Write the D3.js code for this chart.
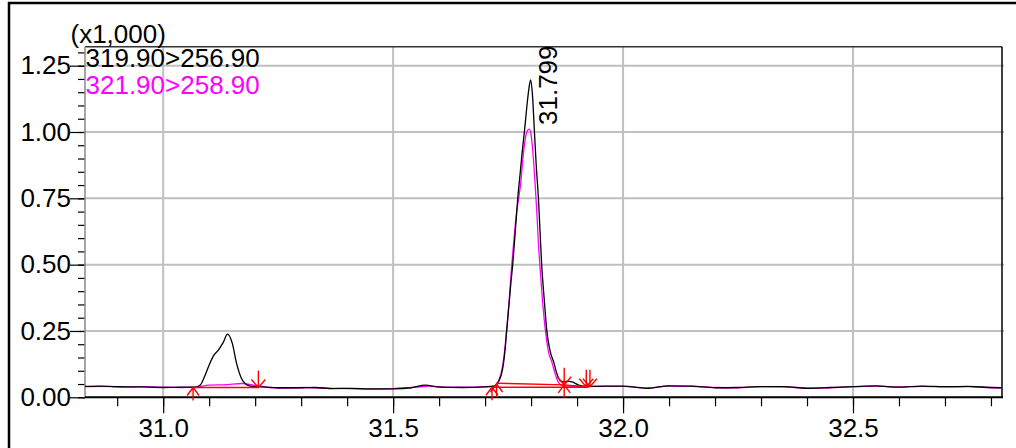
<!DOCTYPE html>
<html>
<head>
<meta charset="utf-8">
<script src="https://cdn.jsdelivr.net/npm/d3@7"></script>
<style>
  body { margin: 0; background: #fff; }
  svg text { font-family: "Liberation Sans", Arial, sans-serif; font-size: 26px; }
</style>
</head>
<body>
<div id="chart"></div>
<script>
// channel names, in drawing order
const channels = ["319.90>256.90", "321.90>258.90"];
const channelColors = ["#000000", "#ff00ff"];

// retention time (min), intensity (x1,000) for 319.90>256.90
const trace319 = [
  [30.83, .041], [30.86, .042], [30.90, .040], [30.95, .039], [31.00, .037], [31.04, .038],
  [31.07, .038], [31.08, .045], [31.09, .078], [31.10, .122], [31.11, .158], [31.12, .178],
  [31.13, .205], [31.14, .238], [31.15, .205], [31.16, .125], [31.17, .072], [31.18, .049],
  [31.19, .042], [31.21, .039], [31.25, .036], [31.30, .036], [31.33, .037], [31.37, .033],
  [31.41, .034], [31.45, .032], [31.50, .032], [31.54, .036], [31.57, .046], [31.60, .038],
  [31.65, .037], [31.70, .039], [31.72, .042], [31.725, .050], [31.731, .065], [31.736, .090],
  [31.740, .128], [31.744, .190], [31.747, .254], [31.752, .350], [31.756, .430], [31.760, .500],
  [31.765, .610], [31.771, .750], [31.776, .840], [31.781, .930], [31.786, 1.010], [31.791, 1.100],
  [31.795, 1.160], [31.799, 1.196], [31.803, 1.140], [31.807, 1.010], [31.811, .880], [31.816, .750],
  [31.823, .500], [31.829, .360], [31.834, .254], [31.842, .170], [31.850, .128], [31.855, .095],
  [31.860, .072], [31.866, .060], [31.873, .059], [31.882, .060], [31.891, .057], [31.900, .049],
  [31.910, .043], [31.92, .041], [31.96, .042], [32.00, .042], [32.05, .034], [32.10, .043],
  [32.15, .042], [32.20, .036], [32.25, .037], [32.30, .040], [32.35, .040], [32.40, .034],
  [32.45, .037], [32.50, .040], [32.55, .043], [32.60, .038], [32.65, .042], [32.70, .040],
  [32.75, .041], [32.80, .037], [32.824, .036]
];

// retention time (min), intensity (x1,000) for 321.90>258.90
const trace321 = [
  [30.83, .040], [30.87, .041], [30.92, .038], [30.96, .040], [31.00, .038], [31.04, .037],
  [31.07, .038], [31.10, .046], [31.14, .048], [31.17, .052], [31.20, .045], [31.23, .037],
  [31.27, .035], [31.31, .037], [31.35, .034], [31.40, .033], [31.45, .031], [31.50, .033],
  [31.55, .038], [31.58, .042], [31.62, .038], [31.67, .038], [31.70, .040], [31.72, .043],
  [31.725, .050], [31.731, .070], [31.736, .100], [31.740, .140], [31.744, .200], [31.748, .270],
  [31.753, .380], [31.758, .500], [31.763, .600], [31.768, .690], [31.773, .750], [31.777, .800],
  [31.782, .895], [31.787, .970], [31.792, 1.005], [31.796, 1.011], [31.800, .990], [31.805, .900],
  [31.809, .800], [31.813, .680], [31.816, .580], [31.819, .500], [31.825, .360], [31.831, .254],
  [31.838, .170], [31.846, .128], [31.852, .090], [31.857, .065], [31.862, .050], [31.870, .044],
  [31.880, .042], [31.90, .041], [31.95, .041], [32.00, .041], [32.05, .035], [32.10, .042],
  [32.15, .041], [32.20, .037], [32.25, .036], [32.30, .040], [32.35, .039], [32.40, .035],
  [32.45, .036], [32.50, .040], [32.55, .042], [32.60, .039], [32.65, .041], [32.70, .039],
  [32.75, .040], [32.80, .036], [32.824, .036]
];

// integration baselines: [t0, v0, t1, v1]
const baselines = [
  [31.065, .037, 31.207, .037],
  [31.725, .053, 31.872, .047],
  [31.715, .038, 31.925, .038],
  [31.872, .047, 31.920, .040]
];

// peak start / end markers: [t, v, direction]
const markers = [
  [31.065, .037, "up"], [31.207, .037, "down"],
  [31.715, .038, "up"], [31.725, .050, "up"],
  [31.872, .047, "up"], [31.872, .047, "down"],
  [31.920, .040, "down"], [31.928, .040, "down"]
];

// labelled peak
const peakTime = 31.799;
const peakValue = 1.196;

// axes
const xTickValues = [31.0, 31.5, 32.0, 32.5];
const yTickValues = [0, 0.25, 0.5, 0.75, 1.0, 1.25];
const xDomain = [30.83, 32.824];
const yDomain = [0, 1.3215];
const yUnitLabel = "(x1,000)";

const W = 1016, H = 448;
const plot = {left: 85, right: 1002, top: 46.7, bottom: 397.3};

const svg = d3.select("#chart").append("svg")
  .attr("width", W)
  .attr("height", H);

const x = d3.scaleLinear().domain(xDomain).range([plot.left, plot.right]);
const y = d3.scaleLinear().domain(yDomain).range([plot.bottom, plot.top]);

// outer frame (only top and left edges show)
svg.append("rect")
  .attr("x", 9).attr("y", 3)
  .attr("width", W + 20).attr("height", H + 20)
  .attr("fill", "none")
  .attr("stroke", "#000")
  .attr("stroke-width", 2.5);

// grid
svg.append("g").selectAll("line")
  .data(yTickValues.filter(d => d > 0))
  .enter().append("line")
  .attr("x1", plot.left).attr("x2", plot.right + 2)
  .attr("y1", d => y(d)).attr("y2", d => y(d))
  .attr("stroke", "#c0c0c0").attr("stroke-width", 2);

svg.append("g").selectAll("line")
  .data(xTickValues)
  .enter().append("line")
  .attr("x1", d => x(d)).attr("x2", d => x(d))
  .attr("y1", plot.top).attr("y2", plot.bottom)
  .attr("stroke", "#c0c0c0").attr("stroke-width", 2);

// minor ticks
const xMinor = svg.append("g")
  .attr("transform", `translate(0,${plot.bottom})`)
  .call(d3.axisBottom(x).ticks(20).tickSize(9).tickFormat(""));
const yMinor = svg.append("g")
  .attr("transform", `translate(${plot.left},0)`)
  .call(d3.axisLeft(y).ticks(26).tickSize(7).tickFormat(""));

// major ticks + labels
const xAxis = svg.append("g")
  .attr("transform", `translate(0,${plot.bottom})`)
  .call(d3.axisBottom(x).tickValues(xTickValues).tickSize(16).tickPadding(5).tickFormat(d3.format(".1f")));
const yAxis = svg.append("g")
  .attr("transform", `translate(${plot.left},0)`)
  .call(d3.axisLeft(y).tickValues(yTickValues).tickSize(15).tickPadding(-1).tickFormat(d3.format(".2f")));

[xMinor, yMinor, xAxis, yAxis].forEach(g => {
  g.select(".domain").remove();
  g.selectAll(".tick line").attr("stroke", "#000").attr("stroke-width", 1.2);
  g.selectAll(".tick text")
    .attr("fill", "#000")
    .style("font-family", '"Liberation Sans", Arial, sans-serif')
    .style("font-size", "26px");
});

// plot frame
svg.append("line")
  .attr("x1", plot.left).attr("x2", plot.right)
  .attr("y1", plot.top).attr("y2", plot.top)
  .attr("stroke", "#333").attr("stroke-width", 1.5);
svg.append("line")
  .attr("x1", plot.right).attr("x2", plot.right)
  .attr("y1", plot.top).attr("y2", plot.bottom)
  .attr("stroke", "#000").attr("stroke-width", 1.5);
svg.append("line")
  .attr("x1", plot.left).attr("x2", plot.left)
  .attr("y1", plot.top).attr("y2", plot.bottom)
  .attr("stroke", "#888").attr("stroke-width", 1.5);
svg.append("line")
  .attr("x1", plot.left).attr("x2", plot.right + 1)
  .attr("y1", plot.bottom).attr("y2", plot.bottom)
  .attr("stroke", "#000").attr("stroke-width", 2);

// traces
const line = d3.line()
  .x(d => x(d[0]))
  .y(d => y(d[1]))
  .curve(d3.curveMonotoneX);

const traces = [trace321, trace319];
const traceColors = [channelColors[1], channelColors[0]];

svg.append("g").selectAll("path")
  .data(traces)
  .enter().append("path")
  .attr("d", line)
  .attr("fill", "none")
  .attr("stroke", (d, i) => traceColors[i])
  .attr("stroke-width", 1.3);

// integration marks
const marks = svg.append("g").attr("stroke", "#ff0000").attr("stroke-width", 1.4).attr("fill", "none");

marks.selectAll("line.base")
  .data(baselines)
  .enter().append("line")
  .attr("class", "base")
  .attr("x1", d => x(d[0])).attr("y1", d => y(d[1]))
  .attr("x2", d => x(d[2])).attr("y2", d => y(d[3]));

marks.selectAll("path.arrow")
  .data(markers)
  .enter().append("path")
  .attr("class", "arrow")
  .attr("d", d => {
    const px = x(d[0]), py = y(d[1]);
    if (d[2] === "up") {
      return `M${px},${py}V${py + 13}M${px - 6},${py + 8}L${px},${py}L${px + 6},${py + 8}`;
    }
    return `M${px},${py}V${py - 17}M${px - 7},${py - 8}L${px},${py}L${px + 7},${py - 8}`;
  });

// legend
svg.append("g").selectAll("text")
  .data(channels)
  .enter().append("text")
  .attr("x", plot.left + 0.5)
  .attr("y", (d, i) => 66.5 + i * 27)
  .attr("fill", (d, i) => channelColors[i])
  .text(d => d);

// unit label
svg.append("text")
  .attr("x", 70.5)
  .attr("y", 42.5)
  .attr("fill", "#000")
  .text(yUnitLabel);

// peak label
svg.append("text")
  .attr("transform", `translate(${x(peakTime) + 26},${y(peakValue) + 45}) rotate(-90)`)
  .attr("fill", "#000")
  .text(d3.format(".3f")(peakTime));
</script>
</body>
</html>
